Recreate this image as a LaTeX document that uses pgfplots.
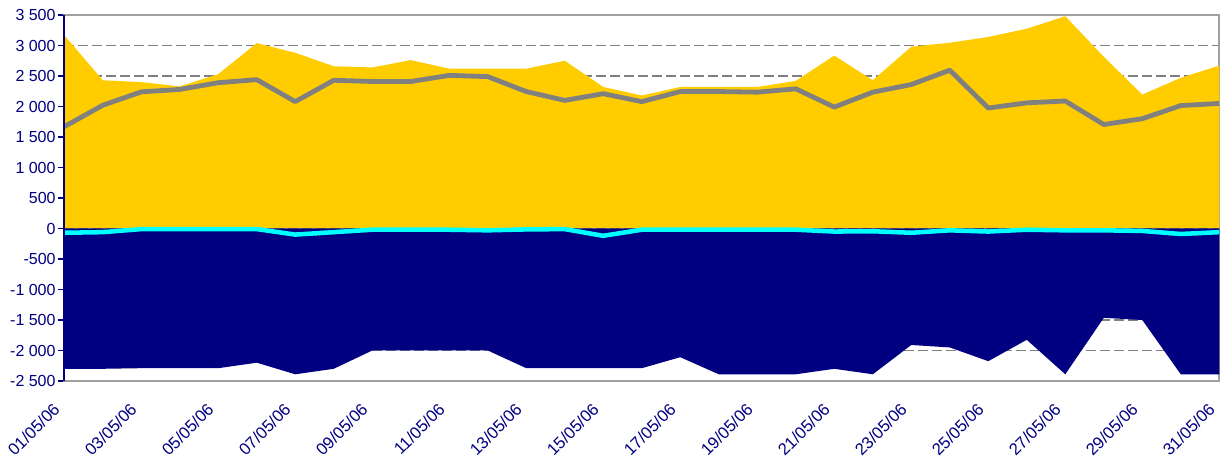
\documentclass[border=0pt]{standalone}
\usepackage{pgfplots}
\pgfplotsset{compat=1.18}
\usepackage{pgfplotstable}
\usepackage{fontspec}
\setmainfont{Liberation Sans}
\definecolor{cyel}{HTML}{FFCC00}
\definecolor{cnavy}{HTML}{000080}
\definecolor{cgray}{HTML}{808080}
\definecolor{ccyan}{HTML}{00FFFF}
\definecolor{cframe}{HTML}{A0A0A0}
\pgfplotstableread{
day yel gray nav cy
1 3170 1670 -2300 -70
2 2430 2020 -2300 -60
3 2400 2240 -2290 -10
4 2330 2280 -2290 -10
5 2530 2390 -2290 -10
6 3040 2440 -2200 -10
7 2880 2080 -2390 -100
8 2660 2430 -2300 -60
9 2640 2410 -2000 -20
10 2760 2410 -2000 -20
11 2620 2510 -2000 -20
12 2620 2490 -2000 -30
13 2620 2245 -2290 -15
14 2750 2100 -2290 -10
15 2320 2210 -2290 -120
16 2180 2080 -2290 -20
17 2320 2245 -2110 -20
18 2320 2245 -2390 -20
19 2320 2235 -2390 -20
20 2420 2290 -2390 -20
21 2835 1990 -2300 -50
22 2430 2235 -2390 -45
23 2980 2360 -1910 -70
24 3045 2595 -1950 -30
25 3140 1975 -2175 -50
26 3275 2060 -1825 -20
27 3480 2090 -2390 -30
28 2815 1705 -1465 -30
29 2195 1800 -1500 -40
30 2470 2015 -2390 -90
31 2670 2050 -2390 -60
}\datatab
\begin{document}
\begin{tikzpicture}
\begin{axis}[
  scale only axis,
  width=866.25pt, height=274.5pt,
  xmin=1, xmax=31, ymin=-2500, ymax=3500,
  ytick={-2500,-2000,...,3500},
  xtick={1,3,...,31},
  xticklabels={01/05/06,03/05/06,05/05/06,07/05/06,09/05/06,11/05/06,13/05/06,15/05/06,17/05/06,19/05/06,21/05/06,23/05/06,25/05/06,27/05/06,29/05/06,31/05/06},
  ymajorgrids,
  grid style={cgray, dash pattern=on 7pt off 3.5pt, line width=0.8pt},
  axis line style={cframe, line width=1.2pt},
  tick align=outside,
  ytick pos=left,
  major tick length=5pt,
  y tick style={cnavy, line width=0.8pt},
  x tick style={draw=none},
  yticklabel style={font=\fontsize{12pt}{14pt}\selectfont, text=cnavy, xshift=2pt},
  xticklabel style={font=\fontsize{12.5pt}{14pt}\selectfont, text=cnavy, xshift=-9pt, yshift=-6pt, rotate=45, anchor=north east},
  /pgf/number format/assume math mode=true,
  /pgf/number format/1000 sep={\ },
  clip=true,
]
\addplot[fill=cyel, draw=none] table[x=day, y=yel] {\datatab} \closedcycle;
\addplot[fill=cnavy, draw=none] table[x=day, y=nav] {\datatab} \closedcycle;
\addplot[cgray, line width=3.6pt, line join=round] table[x=day, y=gray] {\datatab};
\addplot[ccyan, line width=3.4pt, line join=round] table[x=day, y=cy] {\datatab};
\coordinate (SW) at (rel axis cs:0,0);
\coordinate (NE) at (rel axis cs:1,1);
\end{axis}
\draw[cnavy, line width=1.2pt] (SW) -- (SW|-NE);
\pgfresetboundingbox
\path ([shift={(-48.2pt,-58.5pt)}]SW) rectangle ([shift={(1.3pt,11.25pt)}]NE);
\end{tikzpicture}
\end{document}
